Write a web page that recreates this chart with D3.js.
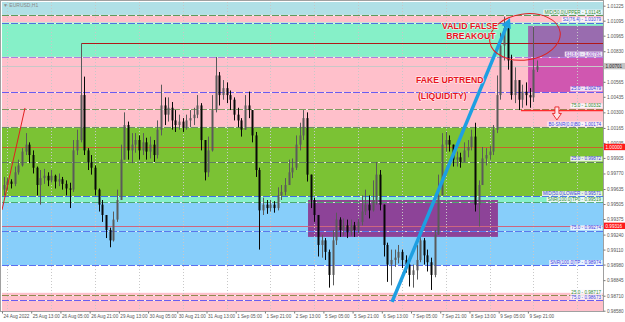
<!DOCTYPE html>
<html>
<head>
<meta charset="utf-8">
<script src="https://cdn.jsdelivr.net/npm/d3@7"></script>
<style>
body { margin: 0; background: #fff; }
svg { display: block; font-family: Arial, "Liberation Sans", sans-serif; }
</style>
</head>
<body>
<svg id="chart" width="625" height="322"></svg>
<script>
// EURUSD H1, 24 Aug - 9 Sep 2022 (drawn as 2 hour candles)
const firstOpen = 0.9963;
const closes = [0.9967,0.9970,0.9968,0.9978,0.9984,0.9996,1.0002,0.9993,0.9982,0.9967,
  0.9973,0.9975,0.9971,0.9975,0.9970,0.9972,0.9968,0.9964,0.9963,0.9997,
  1.0006,1.0045,0.9997,0.9987,0.9982,0.9963,0.9950,0.9941,0.9928,0.9919,
  0.9937,0.9954,0.9989,1.0019,0.9997,1.0002,1.0006,0.9997,1.0004,0.9996,
  1.0002,0.9993,1.0015,1.0036,1.0028,1.0034,1.0023,1.0019,1.0022,1.0017,
  1.0023,1.0025,1.0028,1.0036,1.0006,0.9978,0.9997,1.0032,1.0062,1.0045,
  1.0051,1.0045,1.0041,1.0028,1.0023,1.0015,1.0036,1.0032,1.0010,0.9980,
  0.9945,0.9950,0.9947,0.9950,0.9947,0.9958,0.9961,0.9967,0.9978,0.9982,
  1.0002,1.0010,1.0025,0.9976,0.9954,0.9941,0.9915,0.9919,0.9909,0.9889,
  0.9919,0.9937,0.9928,0.9932,0.9926,0.9932,0.9928,0.9935,0.9944,0.9950,
  0.9945,0.9954,0.9976,0.9950,0.9915,0.9898,0.9902,0.9904,0.9909,0.9902,
  0.9898,0.9889,0.9893,0.9902,0.9919,0.9906,0.9900,0.9889,0.9924,0.9958,
  1.0002,1.0006,1.0002,0.9989,0.9991,0.9987,0.9997,1.0000,1.0009,0.9950,
  0.9967,0.9990,0.9993,0.9996,1.0015,1.0045,1.0088,1.0103,1.0075,1.0045,
  1.0058,1.0041,1.0048,1.0045,1.0043,1.0067,1.0070];
const highs = [0.9974,0.9973,0.9972,0.9983,0.9989,0.9999,1.0012,1.0004,0.9997,0.9983,
  0.9980,0.9981,0.9978,0.9980,0.9976,0.9977,0.9974,0.9971,0.9969,1.0006,
  1.0015,1.0090,1.0061,0.9999,0.9993,0.9984,0.9964,0.9954,0.9941,0.9930,
  0.9944,0.9963,1.0002,1.0030,1.0022,1.0012,1.0012,1.0010,1.0012,1.0008,
  1.0009,1.0006,1.0023,1.0054,1.0043,1.0043,1.0039,1.0032,1.0028,1.0025,
  1.0028,1.0032,1.0034,1.0045,1.0038,1.0006,1.0009,1.0045,1.0078,1.0065,
  1.0058,1.0056,1.0049,1.0043,1.0034,1.0025,1.0045,1.0048,1.0032,1.0013,
  0.9982,0.9956,0.9954,0.9954,0.9953,0.9965,0.9967,0.9973,0.9989,0.9990,
  1.0010,1.0021,1.0032,1.0030,0.9976,0.9956,0.9941,0.9924,0.9921,0.9911,
  0.9928,0.9943,0.9939,0.9938,0.9937,0.9937,0.9935,0.9938,0.9958,0.9963,
  0.9958,0.9971,0.9987,0.9980,0.9950,0.9917,0.9911,0.9911,0.9915,0.9911,
  0.9906,0.9902,0.9898,0.9915,0.9925,0.9921,0.9911,0.9904,0.9928,0.9976,
  1.0012,1.0013,1.0010,1.0002,0.9996,0.9995,1.0004,1.0006,1.0015,1.0021,
  0.9971,1.0000,0.9999,1.0001,1.0019,1.0062,1.0099,1.0113,1.0110,1.0080,
  1.0069,1.0056,1.0054,1.0056,1.0051,1.0104,1.0075];
const lows = [0.9958,0.9963,0.9964,0.9966,0.9976,0.9983,0.9993,0.9986,0.9977,0.9958,
  0.9950,0.9968,0.9966,0.9969,0.9964,0.9966,0.9963,0.9958,0.9947,0.9961,
  0.9993,1.0004,0.9993,0.9980,0.9976,0.9958,0.9944,0.9935,0.9921,0.9913,
  0.9918,0.9935,0.9954,0.9989,0.9989,0.9986,0.9995,0.9989,0.9993,0.9989,
  0.9990,0.9987,0.9990,1.0010,1.0019,1.0022,1.0015,1.0013,1.0015,1.0013,
  1.0015,1.0017,1.0019,1.0025,0.9997,0.9971,0.9974,0.9996,1.0030,1.0036,
  1.0041,1.0038,1.0032,1.0023,1.0017,1.0009,1.0015,1.0025,1.0004,0.9974,
  0.9911,0.9941,0.9942,0.9944,0.9943,0.9945,0.9954,0.9958,0.9967,0.9973,
  0.9980,0.9997,1.0006,0.9970,0.9947,0.9935,0.9905,0.9904,0.9902,0.9878,
  0.9880,0.9915,0.9922,0.9923,0.9921,0.9923,0.9922,0.9925,0.9932,0.9941,
  0.9938,0.9944,0.9950,0.9945,0.9905,0.9883,0.9880,0.9896,0.9899,0.9895,
  0.9891,0.9879,0.9878,0.9885,0.9900,0.9898,0.9892,0.9876,0.9887,0.9924,
  0.9958,0.9996,0.9996,0.9983,0.9983,0.9982,0.9989,0.9991,0.9997,0.9944,
  0.9931,0.9967,0.9984,0.9989,0.9993,1.0012,1.0041,1.0075,1.0067,1.0041,
  1.0038,1.0032,1.0034,1.0036,1.0034,1.0039,1.0065];

const timeLabels = ["24 Aug 2022","25 Aug 13:00","26 Aug 05:00","26 Aug 21:00","29 Aug 13:00",
  "30 Aug 05:00","30 Aug 21:00","31 Aug 13:00","1 Sep 05:00","1 Sep 21:00","2 Sep 13:00",
  "5 Sep 05:00","5 Sep 21:00","6 Sep 13:00","7 Sep 05:00","7 Sep 21:00","8 Sep 13:00",
  "9 Sep 05:00","9 Sep 21:00"];
const priceTicks = [0.98580,0.98710,0.98845,0.98980,0.99110,0.99240,0.99375,0.99505,0.99635,
  0.99770,0.99905,1.00035,1.00165,1.00300,1.00435,1.00565,1.00700,1.00830,1.00965,1.01095,1.01225];

// zone edges (price) and the levels drawn on them
const bandEdges = [1.01145,1.01079,1.00781,1.00174,0.99571,0.99519,0.98974,0.98735];
const levelPrices = [1.01145,1.01079,1.00781,1.00479,1.00332,1.00174,0.99872,0.99571,0.99519,
  0.99274,0.98974,0.98717,0.98673];
const levelNames = ["MID(50.0)UPPER - 1.01145","S1(76.4) - 1.01079","61(8.0) - 1.00781",
  "25.0 - 1.00479","75.0 - 1.00332","B0-SNR(0.0)B0 - 1.00174","25.0 - 0.99872",
  "MID(50.0)LOWER - 0.99571","SNR(100.0)TP0 - 0.99519","75.0 - 0.99274",
  "SNR(100.0)TP - 0.98974","25.0 - 0.98717","75.0 - 0.98673"];
const bidPrice = 1.00701;
const roundPrice = 1.00000;
const alertPrice = 0.99316;

// styles
const bandFills = ["#b0e0e6","#ffc0cb","#86f0c8","#ffc0cb","#7bc234","#86f0c8","#87cefa","#ffffff","#ffc0cb"];
const levelColors = ["#5f9a5a","#4f72e0","#b07ee0","#6a5cf0","#7f9a5f","#6f8a6f","#5f7f5f",
  "#3f6fe6","#4fa86f","#5a78ea","#5a6ff0","#8f8a4f","#6a5cf0"];
const levelText = ["#2f8a2f","#3a4ae0","#9a50d0","#3a3ae0","#2f8a2f","#3a3ae0","#3a3ae0",
  "#3a3ae0","#2f8a2f","#3a3ae0","#3a3ae0","#2f8a2f","#3a3ae0"];

const svg = d3.select("#chart");
const plot = {left: 2, right: 603, top: 2, bottom: 311};

// hour index -> x,  price -> y
const x = d3.scaleLinear().domain([0, 288]).range([2, 2 + 1.826 * 288]);
const y = d3.scaleLinear().domain([0.98580, 1.01225]).range([310.7, 5.7]);
const iRight = x.invert(plot.right);

svg.append("defs").append("clipPath").attr("id", "clip")
  .append("rect").attr("x", plot.left).attr("y", plot.top)
  .attr("width", plot.right - plot.left).attr("height", plot.bottom - plot.top);

const g = svg.append("g").attr("clip-path", "url(#clip)");

// zones
const edges = [y.invert(plot.top)].concat(bandEdges, [y.invert(plot.bottom)]);
g.selectAll(".band").data(bandFills).join("rect")
  .attr("x", plot.left).attr("width", plot.right - plot.left)
  .attr("y", (d, i) => y(edges[i]))
  .attr("height", (d, i) => y(edges[i + 1]) - y(edges[i]))
  .attr("fill", d => d);

// boxes
const boxes = [
  {i0: 167.6, i1: 271.6, p0: 0.99540, p1: 0.99220, fill: "#8e2a86", op: 0.85},
  {i0: 288.1, i1: iRight, p0: 1.01050, p1: 1.00470, fill: "#aa009a", op: 0.55}
];
g.selectAll(".box").data(boxes).join("rect")
  .attr("x", d => x(d.i0)).attr("width", d => x(d.i1) - x(d.i0))
  .attr("y", d => y(d.p0)).attr("height", d => y(d.p1) - y(d.p0))
  .attr("fill", d => d.fill).attr("opacity", d => d.op);

// vertical grid at midnights
const gridHours = d3.range(3, 330, 24);
g.selectAll(".vgrid").data(gridHours).join("line")
  .attr("x1", d => Math.round(x(d)) + 0.5).attr("x2", d => Math.round(x(d)) + 0.5)
  .attr("y1", plot.top).attr("y2", plot.bottom)
  .attr("stroke", "#c8c8c8").attr("stroke-dasharray", "1,2");

// level lines
const levels = levelPrices.map((p, i) => ({p, name: levelNames[i], color: levelColors[i], tcol: levelText[i]}));
g.selectAll(".lvlbg").data(levels).join("line")
  .attr("x1", plot.left).attr("x2", plot.right)
  .attr("y1", d => Math.round(y(d.p)) + 0.5).attr("y2", d => Math.round(y(d.p)) + 0.5)
  .attr("stroke", "#f4f4f4").attr("stroke-opacity", 0.8);
g.selectAll(".lvl").data(levels).join("line")
  .attr("x1", plot.left).attr("x2", plot.right)
  .attr("y1", d => Math.round(y(d.p)) + 0.5).attr("y2", d => Math.round(y(d.p)) + 0.5)
  .attr("stroke", d => d.color).attr("stroke-dasharray", "7,2");

// horizontal price lines
const hlines = [
  {p: roundPrice, i0: 0, i1: iRight, color: "#c8642a", w: 1},
  {p: alertPrice, i0: 0, i1: iRight, color: "#cc6680", w: 1},
  {p: bidPrice, i0: 0, i1: iRight, color: "#c8c8c8", w: 1},
  {p: 1.00902, i0: 43.8, i1: iRight, color: "#b01818", w: 1},
  {p: 1.00321, i0: 284.2, i1: iRight, color: "#ff2a2a", w: 1.5}
];
g.selectAll(".hl").data(hlines).join("line")
  .attr("x1", d => x(d.i0)).attr("x2", d => x(d.i1))
  .attr("y1", d => Math.round(y(d.p)) + 0.5).attr("y2", d => Math.round(y(d.p)) + 0.5)
  .attr("stroke", d => d.color).attr("stroke-width", d => d.w);

// candles
const candles = closes.map((c, k) => ({
  i: 2 * k + 1, o: k === 0 ? firstOpen : closes[k - 1], h: highs[k], l: lows[k], c
}));
const col = d => d.c >= d.o ? "#5a5a5a" : "#080808";
g.selectAll(".wick").data(candles).join("line")
  .attr("x1", d => Math.round(x(d.i)) + 0.5).attr("x2", d => Math.round(x(d.i)) + 0.5)
  .attr("y1", d => y(d.h)).attr("y2", d => y(d.l))
  .attr("stroke", col);
g.selectAll(".body").data(candles).join("rect")
  .attr("x", d => Math.round(x(d.i)) - 0.5).attr("width", 2)
  .attr("y", d => y(Math.max(d.o, d.c)))
  .attr("height", d => Math.max(1, Math.abs(y(d.o) - y(d.c))))
  .attr("fill", col);

// level labels
const lab = g.selectAll(".lab").data(levels).join("g");
lab.append("rect").attr("fill", "#fafaff").attr("opacity", 0.85);
lab.append("text")
  .attr("x", plot.right - 2).attr("y", d => y(d.p) - 1.3)
  .attr("text-anchor", "end").attr("font-size", 4.6)
  .attr("fill", d => d.tcol).text(d => d.name);
lab.each(function () {
  const t = d3.select(this).select("text");
  const b = t.node().getBBox();
  d3.select(this).select("rect")
    .attr("x", b.x - 1).attr("y", b.y).attr("width", b.width + 2).attr("height", b.height);
});

// trend lines and arrows
g.append("line")
  .attr("x1", x(0)).attr("y1", y(0.99454)).attr("x2", x(12.6)).attr("y2", y(1.00338))
  .attr("stroke", "#e02020").attr("stroke-width", 1);

const a0 = [x(213.6), y(0.98656)], a1 = [x(278.2), y(1.01119)];
const ang = Math.atan2(a1[1] - a0[1], a1[0] - a0[0]);
const headLen = 10, headW = 5;
const hb = [a1[0] - headLen * Math.cos(ang), a1[1] - headLen * Math.sin(ang)];
g.append("line")
  .attr("x1", a0[0]).attr("y1", a0[1]).attr("x2", hb[0]).attr("y2", hb[1])
  .attr("stroke", "#1e9fe2").attr("stroke-width", 3.5);
g.append("path")
  .attr("d", `M${a1[0]},${a1[1]}L${hb[0] + headW * Math.sin(ang)},${hb[1] - headW * Math.cos(ang)}L${hb[0] - headW * Math.sin(ang)},${hb[1] + headW * Math.cos(ang)}Z`)
  .attr("fill", "#1e9fe2");

// hollow down arrow
const dx = x(303.9), dTop = y(1.00347), dBot = y(1.00234);
const mid = dTop + (dBot - dTop) * 0.5;
g.append("path")
  .attr("d", `M${dx - 2},${dTop}H${dx + 2}V${mid}H${dx + 4.5}L${dx},${dBot}L${dx - 4.5},${mid}H${dx - 2}Z`)
  .attr("fill", "#ffe0e6").attr("stroke", "#e82020").attr("stroke-width", 0.9);

// ellipse
g.append("ellipse")
  .attr("cx", 0).attr("cy", 0).attr("rx", 35.5).attr("ry", 23)
  .attr("transform", `translate(${x(286.4)},${y(1.00954)}) rotate(-8)`)
  .attr("fill", "none").attr("stroke", "#e02020").attr("stroke-width", 1);

// notes
const notes = [
  {t: "VALID FALSE", i: 256.3, p: 1.01023, anchor: "middle"},
  {t: "BREAKOUT", i: 256.8, p: 1.00937, anchor: "middle"},
  {t: "FAKE UPTREND", i: 226.7, p: 1.00555, anchor: "start"},
  {t: "(LIQUIDITY)", i: 227.8, p: 1.00416, anchor: "start"}
];
g.selectAll(".note").data(notes).join("text")
  .attr("x", d => x(d.i)).attr("y", d => y(d.p))
  .attr("text-anchor", d => d.anchor)
  .attr("font-size", 8.7).attr("font-weight", "bold")
  .attr("fill", "#e8141e").attr("stroke", "#fff").attr("stroke-width", 1.2)
  .attr("stroke-opacity", 0.75).attr("paint-order", "stroke")
  .text(d => d.t);

// symbol caption
svg.append("text").attr("x", 3).attr("y", 7).attr("font-size", 5).attr("fill", "#8a8a8a")
  .text("\u25BC EURUSD,H1");

// frame
svg.append("rect").attr("x", 0.5).attr("y", 0.5).attr("width", plot.right).attr("height", plot.bottom)
  .attr("fill", "none").attr("stroke", "#a0a0a0");

// price axis
const yAxis = d3.axisRight(y).tickValues(priceTicks).tickFormat(d3.format(".5f")).tickSize(2).tickPadding(1.5);
svg.append("g").attr("transform", `translate(${plot.right + 0.5},0)`).call(yAxis)
  .call(a => a.select(".domain").remove())
  .call(a => a.selectAll("line").attr("stroke", "#777"))
  .call(a => a.selectAll("text").attr("font-size", 4.6).attr("fill", "#555")
    .attr("font-family", "Arial, 'Liberation Sans', sans-serif"));

// price markers
const markers = [
  {p: bidPrice, bg: "#c4c4c4", fg: "#222"},
  {p: roundPrice, bg: "#ff1a1a", fg: "#fff"},
  {p: alertPrice, bg: "#ff1a1a", fg: "#fff"}
];
const mk = svg.selectAll(".mk").data(markers).join("g")
  .attr("transform", d => `translate(${plot.right + 1},${y(d.p)})`);
mk.append("rect").attr("x", 0).attr("y", -3.2).attr("width", 21).attr("height", 6.4).attr("fill", d => d.bg);
mk.append("text").attr("x", 1.5).attr("y", 1.7).attr("font-size", 4.6).attr("fill", d => d.fg)
  .text(d => d3.format(".5f")(d.p));

// time axis
const xAxis = d3.axisBottom(x).tickValues(timeLabels.map((d, i) => i * 16))
  .tickFormat((d, i) => timeLabels[i]).tickSize(2).tickPadding(1.5);
svg.append("g").attr("transform", `translate(0,${plot.bottom + 0.5})`).call(xAxis)
  .call(a => a.select(".domain").remove())
  .call(a => a.selectAll("line").attr("stroke", "#777"))
  .call(a => a.selectAll("text").attr("font-size", 4.6).attr("fill", "#555")
    .attr("text-anchor", "start").attr("dx", 1)
    .attr("font-family", "Arial, 'Liberation Sans', sans-serif"));
</script>
</body>
</html>
